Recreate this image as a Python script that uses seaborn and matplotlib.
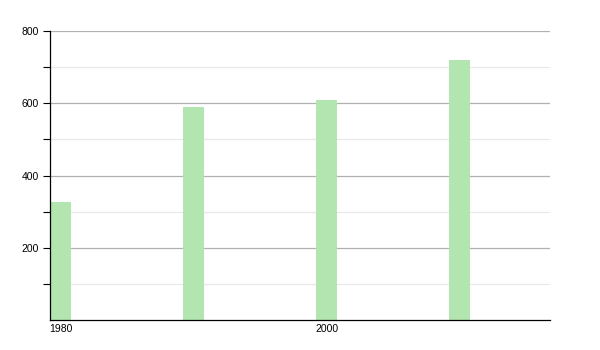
import matplotlib
matplotlib.use("Agg")
import matplotlib.pyplot as plt
import seaborn as sns
import pandas as pd
from matplotlib.ticker import FixedLocator

years = [1980, 1990, 2000, 2010]
values = [327, 590, 608, 720]
xtick_labels = [1980, 2000]
ytick_labels = [200, 400, 600, 800]

sns.set_style("white")
plt.rcParams['font.family'] = ['Liberation Sans', 'DejaVu Sans']

df = pd.DataFrame({"year": years, "value": values})

fig = plt.figure(figsize=(6, 3.5), dpi=100)
ax = fig.add_axes([50/600, 1 - 320/350, 500/600, (320 - 31)/350])

sns.barplot(data=df, x="year", y="value", native_scale=True, width=0.158,
            color="#b3e5b1", saturation=1, ax=ax, edgecolor="none")

ax.set_xlim(1980 - 0.79, 2016.8)
ax.set_ylim(0, 800)
ax.yaxis.set_major_locator(FixedLocator(ytick_labels))
ax.yaxis.set_minor_locator(FixedLocator([100, 300, 500, 700]))
ax.set_xticks(xtick_labels)
ax.set_xticklabels([str(v) for v in xtick_labels])
ax.grid(True, axis="y", which="major", color="#b0b0b0", linewidth=0.9)
ax.grid(True, axis="y", which="minor", color="#e8e8e8", linewidth=0.9)
ax.set_axisbelow(True)
ax.tick_params(axis="y", which="both", direction="out", length=5, width=0.8,
               color="black", left=True, labelsize=7.5, pad=3, labelcolor="black")
ax.tick_params(axis="x", which="both", length=0, labelsize=7.5, pad=3,
               labelcolor="black")
for s in ["top", "right"]:
    ax.spines[s].set_visible(False)
for s in ["left", "bottom"]:
    ax.spines[s].set_color("black")
    ax.spines[s].set_linewidth(0.9)
ax.set_xlabel("")
ax.set_ylabel("")

fig.savefig("out.png", dpi=100)
